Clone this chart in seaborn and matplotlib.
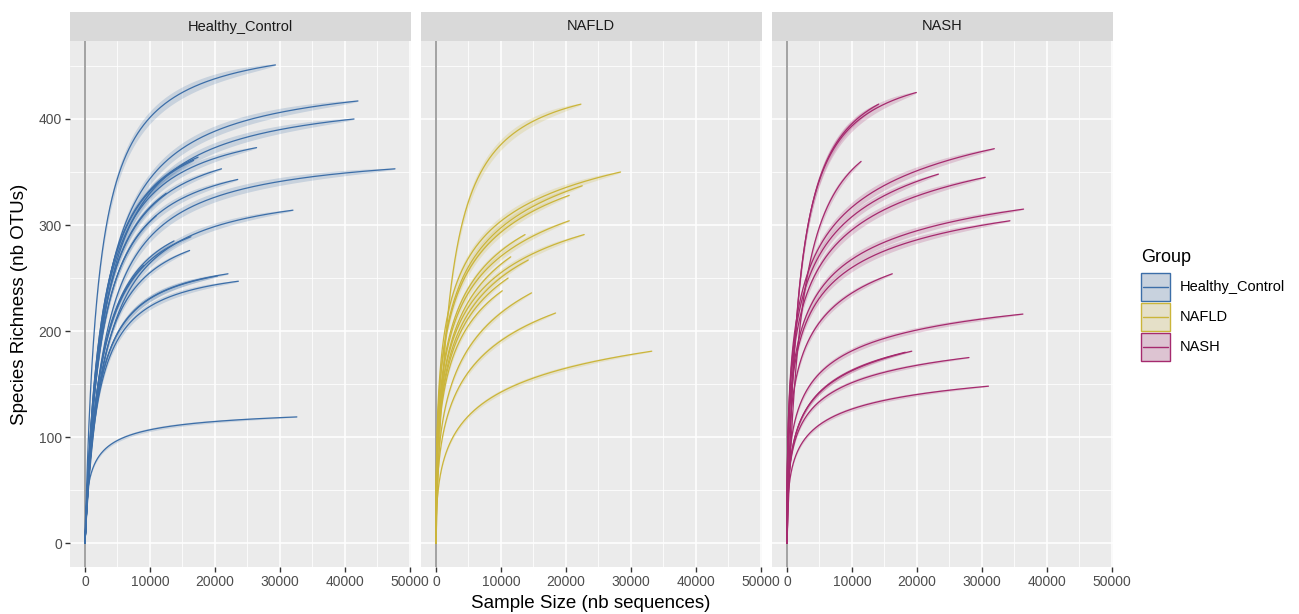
import numpy as np
import pandas as pd
import matplotlib
matplotlib.use("Agg")
import matplotlib.pyplot as plt
import seaborn as sns
from matplotlib.patches import Rectangle
from matplotlib.ticker import MultipleLocator
from matplotlib.colors import to_rgb

# ---- data: per-sample sequencing depth, observed richness, and curve shape
#      (half-saturation depth in reads and Hill exponent) ----
groups = ["Healthy_Control", "NAFLD", "NASH"]
group_colors = ["#3C6EA8", "#CBB53A", "#A52A6E"]

hc_depth = [29300, 42000, 41400, 47700, 32000, 32600, 17400, 16700, 26400, 21000,
            23500, 13700, 16300, 16100, 22000, 20400, 23600, 11000, 12500, 9000]
hc_richness = [451, 417, 400, 353, 314, 119, 364, 361, 373, 353,
               343, 285, 289, 276, 254, 252, 247, 309, 330, 262]
hc_half_sat = [2000, 3000, 3000, 3000, 3000, 1000, 2500, 2500, 2500, 2500,
               2500, 2500, 2500, 2500, 2000, 2000, 2000, 2500, 2500, 2500]
hc_hill = [1.0, 1.0, 1.0, 1.0, 1.0, 0.6, 1.0, 1.0, 1.0, 1.0,
           1.0, 1.0, 1.0, 1.0, 1.0, 1.0, 1.0, 1.0, 1.0, 1.0]

nafld_depth = [22300, 28400, 22500, 20500, 20500, 22800, 13700, 14200, 11100, 10200,
               14700, 18400, 33200, 11500]
nafld_richness = [414, 350, 337, 328, 304, 291, 291, 267, 250, 238,
                  236, 217, 181, 270]
nafld_half_sat = [2000, 2600, 3500, 3500, 4000, 4000, 4000, 5000, 5000, 5000,
                  10000, 10000, 11000, 5000]
nafld_hill = [1.0, 0.45, 0.45, 0.45, 0.45, 0.45, 0.45, 0.45, 0.45, 0.45,
              0.45, 0.45, 0.45, 0.45]

nash_depth = [19900, 14100, 11400, 31900, 23300, 30500, 36400, 34300, 16200, 36300,
              19200, 18200, 28000, 31000]
nash_richness = [425, 414, 360, 372, 348, 345, 315, 304, 254, 216,
                 181, 180, 175, 148]
nash_half_sat = [1750, 1800, 2200, 2900, 2900, 2900, 2300, 2300, 2900, 2900,
                 4000, 4000, 2900, 2900]
nash_hill = [1.0, 1.0, 1.0, 0.45, 0.45, 0.45, 0.45, 0.45, 0.45, 0.45,
             0.45, 0.45, 0.45, 0.45]

depths = [hc_depth, nafld_depth, nash_depth]
richness = [hc_richness, nafld_richness, nash_richness]
half_sat = [hc_half_sat, nafld_half_sat, nash_half_sat]
hill = [hc_hill, nafld_hill, nash_hill]

# ---- rarefaction curves: saturating curve anchored at each sample's endpoint ----
rows = []
for g, D, R, K, Hh in zip(groups, depths, richness, half_sat, hill):
    for i, (N, S, k, h) in enumerate(zip(D, R, K, Hh)):
        n = N * np.linspace(0, 1, 400) ** 2
        frac = lambda x: x ** h / (k ** h + x ** h)
        a = S / frac(N)
        s = a * frac(n)
        se = 0.018 * s * np.sqrt(np.clip(1 - n / N, 0, 1))
        rows.append(pd.DataFrame({"Group": g, "Sample": f"{g}_{i}", "Depth": n,
                                  "Richness": s, "lo": s - se, "hi": s + se}))
df = pd.concat(rows, ignore_index=True)

# ---- figure / theme ----
sns.set_theme(style="darkgrid")
plt.rcParams["font.family"] = ["Liberation Sans", "DejaVu Sans"]

W, H = 1299, 614
fig = plt.figure(figsize=(W / 100, H / 100), dpi=100)
fig.patch.set_facecolor("white")

xmax = max(max(d) for d in depths)
ymax = float(df["Richness"].max())
xlim = (-0.05 * xmax, 1.05 * xmax)
ylim = (-0.05 * ymax, 1.05 * ymax)

panel_left = [69.5, 420.5, 771.5]
panel_w = 341
panel_top, panel_bot = 41, 567
strip_h = 29

for j, (g, col) in enumerate(zip(groups, group_colors)):
    ax = fig.add_axes([panel_left[j] / W, (H - panel_bot) / H, panel_w / W,
                       (panel_bot - panel_top) / H])
    ax.set_facecolor("#EBEBEB")
    for sp in ax.spines.values():
        sp.set_visible(False)
    ax.set_axisbelow(True)

    ax.axvline(0, color="#8A8A8A", lw=1.1, zorder=1.5)

    sub = df[df["Group"] == g]
    for _, s in sub.groupby("Sample", sort=False):
        ax.fill_between(s["Depth"], s["lo"], s["hi"], color=col, alpha=0.2,
                        lw=0, zorder=2)
    sns.lineplot(data=sub, x="Depth", y="Richness", units="Sample",
                 estimator=None, sort=False, color=col, lw=0.9, ax=ax,
                 legend=False, zorder=3)

    ax.set_xlim(xlim)
    ax.set_ylim(ylim)
    ax.set_xlabel("")
    ax.set_ylabel("")
    ax.set_xticks([0, 10000, 20000, 30000, 40000, 50000])
    ax.set_xticklabels(["0", "10000", "20000", "30000", "40000", "50000"])
    ax.xaxis.set_minor_locator(MultipleLocator(5000))
    ax.set_yticks([0, 100, 200, 300, 400])
    ax.yaxis.set_minor_locator(MultipleLocator(50))
    ax.grid(which="major", color="white", lw=1.1)
    ax.grid(which="minor", color="white", lw=0.55)
    ax.tick_params(axis="x", which="major", length=3.5, width=1, color="#333333",
                   labelsize=10, labelcolor="#4D4D4D", pad=2, bottom=True)
    ax.tick_params(which="minor", length=0)
    if j == 0:
        ax.tick_params(axis="y", which="major", length=3.5, width=1,
                       color="#333333", labelsize=10, labelcolor="#4D4D4D",
                       pad=2, left=True)
    else:
        ax.tick_params(axis="y", which="major", length=0, labelleft=False)

    sax = fig.add_axes([panel_left[j] / W, (H - panel_top) / H, panel_w / W,
                        strip_h / H])
    sax.set_facecolor("#D9D9D9")
    sax.grid(False)
    sax.set_xticks([])
    sax.set_yticks([])
    for sp in sax.spines.values():
        sp.set_visible(False)
    sax.text(0.5, 0.5, g, ha="center", va="center", fontsize=10.5,
             color="#1A1A1A", transform=sax.transAxes)

# axis titles
fig.text(591 / W, (H - 603) / H, "Sample Size (nb sequences)", ha="center",
         va="center", fontsize=13.5, color="black")
fig.text(20 / W, (H - 304) / H, "Species Richness (nb OTUs)", ha="center",
         va="center", rotation=90, fontsize=13.5, color="black")

# legend
lax = fig.add_axes([0, 0, 1, 1], facecolor="none")
lax.set_xlim(0, W)
lax.set_ylim(H, 0)
lax.axis("off")
lax.text(1141, 257, "Group", ha="left", va="center", fontsize=13, color="black")
for i, (lab, col) in enumerate(zip(groups, group_colors)):
    y0 = 273 + 30 * i
    c = np.array(to_rgb(col))
    bg = np.array(to_rgb("#EBEBEB"))
    fill = 0.2 * c + 0.8 * bg
    lax.add_patch(Rectangle((1141, y0), 29, 28, facecolor=fill, edgecolor=col,
                            lw=1.0))
    lax.plot([1143, 1168], [y0 + 14, y0 + 14], color=col, lw=1.0)
    lax.text(1180, y0 + 14, lab, ha="left", va="center", fontsize=10.5,
             color="black")

fig.savefig("out.png", dpi=100, facecolor="white")
